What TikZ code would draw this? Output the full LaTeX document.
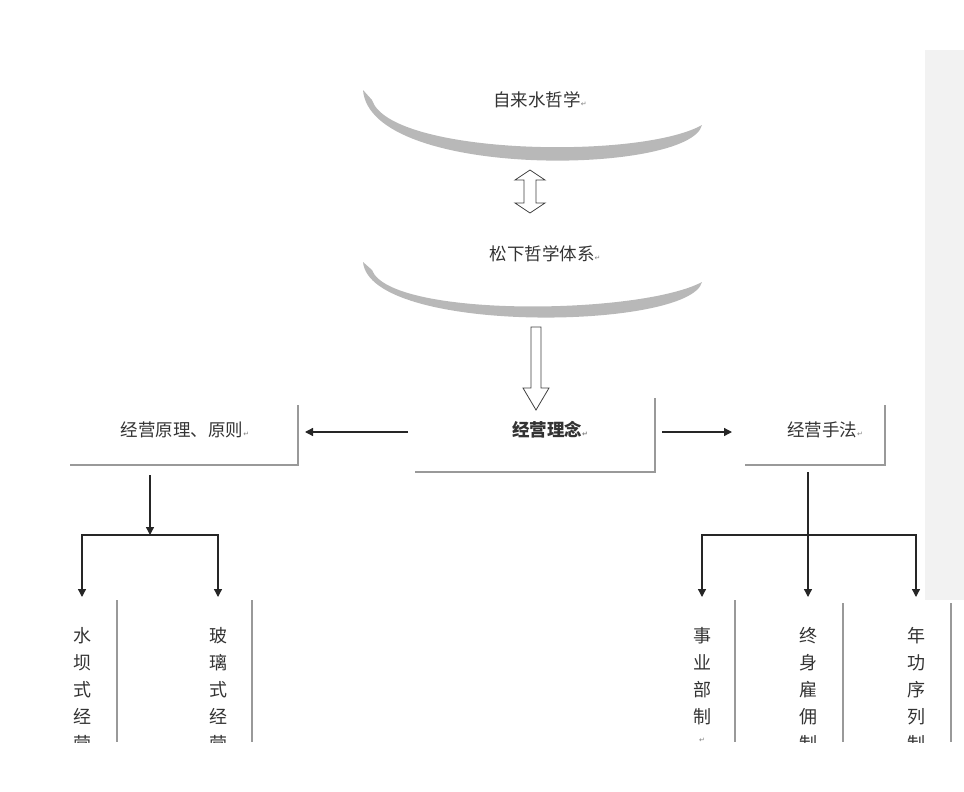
\documentclass[tikz,border=0pt]{standalone}
\usetikzlibrary{arrows.meta}
\usepackage{fontspec}
\setmainfont{Noto Sans CJK SC}
\newfontfamily\symf{DejaVu Sans}
\begin{document}
\begin{tikzpicture}[x=1pt,y=-1pt,
  lbl/.style={font=\fontsize{17.5}{20}\selectfont, text=black!80},
  vt/.style={font=\fontsize{18}{27}\selectfont, text=black!80, align=center, anchor=north, inner sep=0pt},
  gl/.style={draw=black!40, line width=1.2pt},
  arr/.style={draw=black!85, line width=1.3pt, -{Triangle[length=8pt,width=8pt]}},
  open/.style={draw=black!75, line width=0.8pt, fill=white},
  cres/.style={fill=black!28, draw=none}]
\useasboundingbox (0,0) rectangle (964,792);
\fill[black!5] (925,50) rectangle (964,600);
\newcommand{\ret}{{\symf\fontsize{7}{7}\selectfont\textcolor{black!50}{↵}}}
% crescents
\fill[cres] (363,90) .. controls (370,180) and (690,175) .. (702,125) .. controls (640,160) and (390,155) .. (372,100) -- cycle;
\fill[cres] (363,262) .. controls (370,335) and (690,330) .. (702,282) .. controls (640,315) and (390,318) .. (372,270) -- cycle;
\node[lbl] (zls) at (540,100) {自来水哲学\ret};
\node[lbl] (sx) at (545,254) {松下哲学体系\ret};
% double open arrow
\draw[open] (530,170) -- (545,180) -- (536,180) -- (536,203) -- (545,203) -- (530,213) -- (515,203) -- (524,203) -- (524,180) -- (515,180) -- cycle;
% down open arrow
\draw[open] (531,327) -- (541,327) -- (541,388) -- (549,388) -- (536,410) -- (523,388) -- (531,388) -- cycle;
% boxes
\node[lbl,font=\bfseries\fontsize{17.5}{20}\selectfont] (ln) at (550,430) {经营理念\ret};
\draw[gl] (655,398) -- (655,472) -- (415,472);
\node[lbl] (yl) at (185,430) {经营原理、原则\ret};
\draw[gl] (298,405) -- (298,465) -- (70,465);
\node[lbl] (sf) at (825,430) {经营手法\ret};
\draw[gl] (885,405) -- (885,465) -- (745,465);
\coordinate (lnL) at (408,432); \coordinate (ylR) at (305,432);
\coordinate (lnR) at (662,432); \coordinate (sfL) at (732,432);
\draw[arr] (lnL) -- (ylR);
\draw[arr] (lnR) -- (sfL);
% left tree
\coordinate (a0) at (150,475); \coordinate (a1) at (150,535);
\draw[arr] (a0) -- (a1);
\coordinate (b1) at (82,597); \coordinate (b2) at (218,597);
\draw[arr] (150,535) -- (82,535) -- (b1);
\draw[arr] (150,535) -- (218,535) -- (b2);
% right tree
\coordinate (c0) at (808,472); \coordinate (c2) at (808,597);
\coordinate (c1) at (702,597); \coordinate (c3) at (916,597);
\draw[arr] (c0) -- (c2);
\draw[arr] (808,535) -- (702,535) -- (c1);
\draw[arr] (808,535) -- (916,535) -- (c3);
% bottom vertical texts (clipped)
\begin{scope}
\clip (0,590) rectangle (964,742);
\node[vt] (t1) at (82,627) {水\\坝\\式\\经\\营};
\node[vt] (t2) at (218,627) {玻\\璃\\式\\经\\营};
\node[vt] (t3) at (702,627) {事\\业\\部\\制\\[-8pt]\ret};
\node[vt] (t4) at (808,627) {终\\身\\雇\\佣\\制};
\node[vt] (t5) at (916,627) {年\\功\\序\\列\\制};
\end{scope}
\foreach \x/\y in {117/600,252/600,735/600,843/603,951/603}
  \draw[gl] (\x,\y) -- (\x,742);
\end{tikzpicture}
\end{document}
